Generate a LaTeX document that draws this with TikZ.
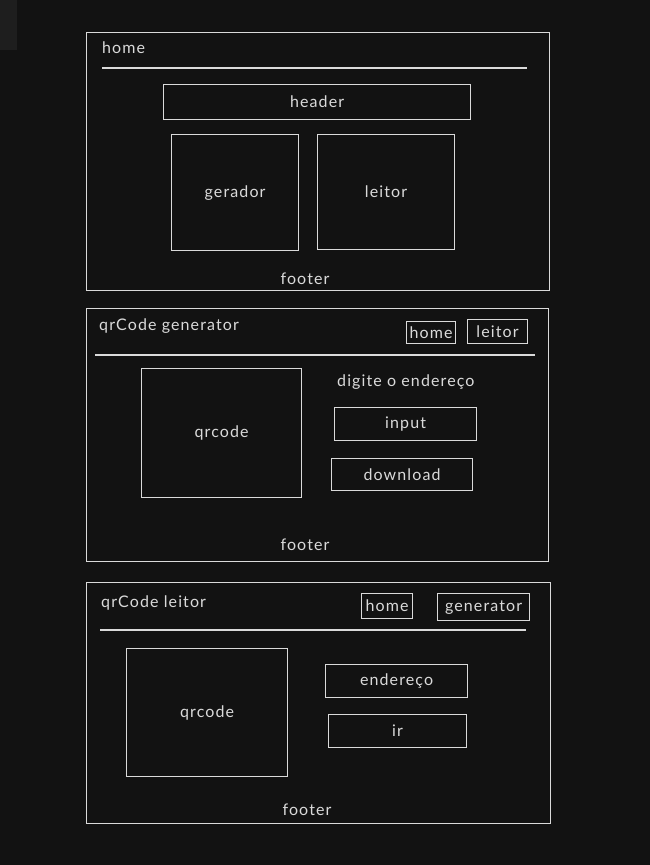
\documentclass[tikz,border=0pt]{standalone}
\usepackage{fontspec}
\setmainfont{Lato}[LetterSpace=7]
\definecolor{bg}{HTML}{121212}
\definecolor{tab}{HTML}{1E1E1E}
\definecolor{ink}{HTML}{DADADA}
\begin{document}
\begin{tikzpicture}[x=1pt,y=1pt,
  box/.style={draw=ink, line width=1.2pt, anchor=north west, inner sep=0pt, text=ink, font=\fontsize{16}{19}\selectfont},
  frame/.style={draw=ink, line width=1.2pt, anchor=north west, inner sep=0pt},
  lbl/.style={text=ink, inner sep=0pt, font=\fontsize{16}{19}\selectfont},
  rule/.style={draw=ink, line width=1.2pt}]
\fill[bg] (0,0) rectangle (650,-865);
\useasboundingbox (0,0) rectangle (650,-865);
\fill[tab] (0,0) rectangle (17,-50);
% ---------- panel 1: home ----------
\node[frame, minimum width=463, minimum height=258] (p1) at (86,-32) {};
\node[lbl, anchor=west] (t1) at (102,-48) {home};
\coordinate (l1a) at (102,-68); \coordinate (l1b) at (527,-68);
\draw[rule] (l1a) -- (l1b);
\node[box, minimum width=307, minimum height=35] (header) at (163,-84) {header};
\node[box, minimum width=127, minimum height=116] (gerador) at (171,-134) {gerador};
\node[box, minimum width=137, minimum height=115] (leitor) at (317,-134) {leitor};
\node[lbl] (f1) at (305,-279) {footer};
% ---------- panel 2: qrCode generator ----------
\node[frame, minimum width=462, minimum height=253] (p2) at (86,-308) {};
\node[lbl, anchor=west] (t2) at (99,-326) {qrCode generator};
\node[box, minimum width=49, minimum height=22] (home2) at (406,-321) {home};
\node[box, minimum width=60, minimum height=24] (leitor2) at (467,-319) {leitor};
\coordinate (l2a) at (95,-355); \coordinate (l2b) at (535,-355);
\draw[rule] (l2a) -- (l2b);
\node[box, minimum width=160, minimum height=129] (qr2) at (141,-368) {qrcode};
\node[lbl, anchor=west] (dig) at (337,-382) {digite o endereço};
\node[box, minimum width=142, minimum height=33] (input) at (334,-407) {input};
\node[box, minimum width=141, minimum height=32] (download) at (331,-458) {download};
\node[lbl] (f2) at (305,-545) {footer};
% ---------- panel 3: qrCode leitor ----------
\node[frame, minimum width=464, minimum height=241] (p3) at (86,-582) {};
\node[lbl, anchor=west] (t3) at (101,-603) {qrCode leitor};
\node[box, minimum width=51, minimum height=25] (home3) at (361,-593) {home};
\node[box, minimum width=92, minimum height=27] (gen3) at (437,-593) {generator};
\coordinate (l3a) at (100,-630); \coordinate (l3b) at (526,-630);
\draw[rule] (l3a) -- (l3b);
\node[box, minimum width=161, minimum height=128] (qr3) at (126,-648) {qrcode};
\node[box, minimum width=142, minimum height=33] (end3) at (325,-664) {endereço};
\node[box, minimum width=138, minimum height=33] (ir) at (328,-714) {ir};
\node[lbl] (f3) at (307,-810) {footer};
\end{tikzpicture}
\end{document}
